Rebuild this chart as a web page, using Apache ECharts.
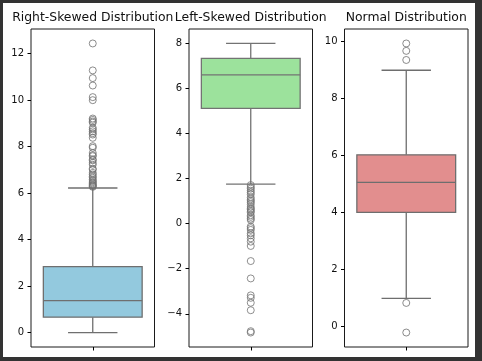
<!DOCTYPE html>
<html>
<head>
<meta charset="utf-8">
<script src="https://cdn.jsdelivr.net/npm/echarts@6/dist/echarts.min.js"></script>
<style>
html,body{margin:0;padding:0;background:#333;}
#chart{width:482px;height:361px;}
</style>
</head>
<body>
<div id="chart"></div>
<script>
// ---- data ----
const titles = ["Right-Skewed Distribution", "Left-Skewed Distribution", "Normal Distribution"];
// [lower whisker, Q1, median, Q3, upper whisker]
const rightBox = [0.0, 0.66, 1.37, 2.84, 6.22];
const leftBox = [1.75, 5.11, 6.60, 7.33, 7.99];
const normalBox = [0.97, 3.99, 5.04, 6.01, 8.98];
const rightOutliers = [12.44, 11.28, 10.95, 10.63, 10.13, 10.0, 9.21, 9.15, 9.08, 9.03, 8.81, 8.74, 8.66, 8.58, 8.52, 8.38, 8.02, 7.95, 7.73, 7.63, 7.59, 7.45, 7.41, 7.30, 7.22, 7.05, 7.01, 6.87, 6.80, 6.72, 6.66, 6.58, 6.52, 6.47, 6.42, 6.37, 6.33, 6.30, 6.27];
const leftOutliers = [1.71, 1.62, 1.55, 1.46, 1.38, 1.30, 1.16, 1.08, 1.01, 0.95, 0.86, 0.74, 0.67, 0.62, 0.55, 0.50, 0.37, 0.30, 0.22, 0.16, -0.13, -0.20, -0.28, -0.43, -0.52, -0.65, -0.80, -0.99, -1.66, -2.43, -3.18, -3.29, -3.51, -3.84, -4.77, -4.83];
const normalOutliers = [9.92, 9.66, 9.34, 0.81, -0.23];
const rightTicks = [0, 2, 4, 6, 8, 10, 12];
const leftTicks = [-4, -2, 0, 2, 4, 6, 8];
const normalTicks = [0, 2, 4, 6, 8, 10];

const boxes = [rightBox, leftBox, normalBox];
const outliers = [rightOutliers, leftOutliers, normalOutliers];
const ticks = [rightTicks, leftTicks, normalTicks];
const fills = ["#93C9DE", "#9CE29C", "#E28E8E"];
const lines = ["#6f6f6f", "#737373", "#6e6e6e"];

const gridLeft = [31, 189, 344.5];
const gridW = 123.5, gridTop = 29, gridH = 318;

const chart = echarts.init(document.getElementById('chart'), null, {renderer: 'canvas'});

function limits(i) {
  const all = boxes[i].concat(outliers[i]);
  const lo = Math.min.apply(null, all), hi = Math.max.apply(null, all);
  const m = (hi - lo) * 0.05;
  return [lo - m, hi + m];
}

const grid = [], xAxis = [], yAxis = [], series = [], graphic = [];
graphic.push({type: 'rect', z: -100, shape: {x: 3, y: 3, width: 472, height: 354}, style: {fill: '#ffffff'}});

for (let i = 0; i < 3; i++) {
  const lim = limits(i);
  grid.push({left: gridLeft[i], top: gridTop, width: gridW, height: gridH, show: true,
    backgroundColor: '#ffffff', borderColor: '#1a1a1a', borderWidth: 1, containLabel: false});
  xAxis.push({type: 'value', gridIndex: i, min: -0.5, max: 0.5, position: 'bottom',
    axisLine: {show: false, onZero: false}, splitLine: {show: false},
    axisTick: {show: true, customValues: [0], length: 3.5, lineStyle: {color: '#000', width: 1}},
    axisLabel: {show: true, customValues: [0], formatter: function(){return '';}}});
  yAxis.push({type: 'value', gridIndex: i, min: lim[0], max: lim[1], position: 'left',
    axisLine: {show: false, onZero: false}, splitLine: {show: false},
    axisTick: {show: true, customValues: ticks[i], length: 3.5, lineStyle: {color: '#000', width: 1}},
    axisLabel: {show: true, customValues: ticks[i], margin: 7, color: '#111',
      fontFamily: 'DejaVu Sans', fontSize: 10,
      formatter: function(v){ return v < 0 ? '\u2212' + Math.abs(v) : String(v); }}});
  const fill = fills[i], lc = lines[i];
  series.push({type: 'custom', xAxisIndex: i, yAxisIndex: i,
    data: [[0].concat(boxes[i])],
    encode: {x: 0, y: [1, 2, 3, 4, 5]},
    renderItem: function(params, api) {
      const x = api.value(0);
      const half = api.size([0.8, 0])[0] / 2;
      const capHalf = half / 2;
      const pLw = api.coord([x, api.value(1)]);
      const pQ1 = api.coord([x, api.value(2)]);
      const pMed = api.coord([x, api.value(3)]);
      const pQ3 = api.coord([x, api.value(4)]);
      const pUw = api.coord([x, api.value(5)]);
      const ls = {stroke: lc, lineWidth: 1.3, fill: null};
      return {type: 'group', children: [
        {type: 'line', shape: {x1: pQ1[0], y1: pQ1[1], x2: pLw[0], y2: pLw[1]}, style: ls},
        {type: 'line', shape: {x1: pQ3[0], y1: pQ3[1], x2: pUw[0], y2: pUw[1]}, style: ls},
        {type: 'line', shape: {x1: pLw[0] - capHalf, y1: pLw[1], x2: pLw[0] + capHalf, y2: pLw[1]}, style: ls},
        {type: 'line', shape: {x1: pUw[0] - capHalf, y1: pUw[1], x2: pUw[0] + capHalf, y2: pUw[1]}, style: ls},
        {type: 'rect', shape: {x: pQ3[0] - half, y: pQ3[1], width: 2 * half, height: pQ1[1] - pQ3[1]},
          style: {fill: fill, stroke: lc, lineWidth: 1.3}},
        {type: 'line', shape: {x1: pMed[0] - half, y1: pMed[1], x2: pMed[0] + half, y2: pMed[1]}, style: ls}
      ]};
    }
  });
  series.push({type: 'scatter', xAxisIndex: i, yAxisIndex: i,
    data: outliers[i].map(function(v){ return [0, v]; }),
    symbol: 'circle', symbolSize: 7,
    itemStyle: {color: 'rgba(0,0,0,0)', borderColor: lc, borderWidth: 1},
    z: 3});
  graphic.push({type: 'text', x: gridLeft[i] + gridW / 2, y: 18, z: 10,
    style: {text: titles[i], fill: '#111', font: '12.4px "DejaVu Sans"',
      textAlign: 'center', textVerticalAlign: 'middle'}});
}

chart.setOption({
  backgroundColor: '#333333',
  animation: false,
  grid: grid, xAxis: xAxis, yAxis: yAxis, series: series, graphic: graphic
});
</script>
</body>
</html>
